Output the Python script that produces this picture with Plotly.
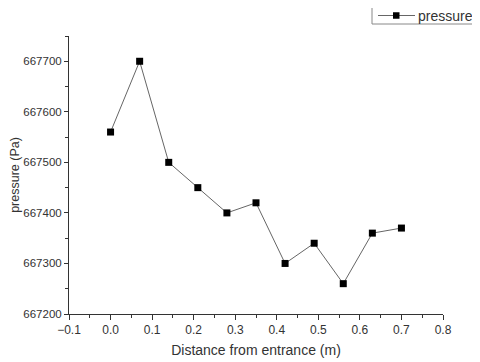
import plotly.graph_objects as go

distance = [0.0, 0.07, 0.14, 0.21, 0.28, 0.35, 0.42, 0.49, 0.56, 0.63, 0.70]
pressure = [667560, 667700, 667500, 667450, 667400, 667420, 667300, 667340, 667260, 667360, 667370]
series_name = "pressure"

fig = go.Figure()
fig.add_trace(go.Scatter(
    x=distance, y=pressure, mode="lines+markers", name=series_name,
    line=dict(color="#666666", width=1),
    marker=dict(symbol="square", size=7, color="black"),
))

font = "Liberation Sans, Arial, sans-serif"

# page body has an 8px default margin; compensate so the picture lines up
OFF = 8
FW, FH = 480 - OFF, 362 - OFF
L, T, W, H = 69 - OFF, 36 - OFF, 374, 278

def px(x):
    return (x - OFF - L) / W
def py(y):
    return (T + H - (y - OFF)) / H

legend_shapes = [
    dict(type="rect", xref="paper", yref="paper",
         x0=px(372), x1=px(476), y0=py(24), y1=py(7),
         line=dict(color="#888888", width=1), fillcolor="rgba(0,0,0,0)"),
    dict(type="line", xref="paper", yref="paper",
         x0=px(378), x1=px(415), y0=py(15.5), y1=py(15.5),
         line=dict(color="#666666", width=1)),
    dict(type="rect", xref="paper", yref="paper",
         x0=px(393), x1=px(399.5), y0=py(18.75), y1=py(12.25),
         line=dict(color="black", width=0), fillcolor="black"),
]

fig.update_layout(
    width=FW, height=FH,
    margin=dict(l=L, r=FW - L - W, t=T, b=FH - T - H),
    paper_bgcolor="white", plot_bgcolor="white",
    font=dict(family=font, size=12, color="#333333"),
    showlegend=False,
    xaxis=dict(range=[-0.1, 0.8], dtick=0.1, tickformat=".1f", automargin=False,
               showgrid=False, zeroline=False, showline=True, linecolor="#333333", linewidth=1,
               ticks="outside", ticklen=5, tickcolor="#333333",
               minor=dict(ticks="outside", ticklen=3, dtick=0.05, tickcolor="#333333"),
               title=dict(text="Distance from entrance (m)", font=dict(size=14), standoff=8)),
    yaxis=dict(range=[667200, 667750], tick0=667200, dtick=100, tickformat="d", automargin=False,
               showgrid=False, zeroline=False, showline=True, linecolor="#333333", linewidth=1,
               ticks="outside", ticklen=4, tickcolor="#333333", tickfont=dict(size=11.5),
               minor=dict(ticks="outside", ticklen=3, dtick=50, tickcolor="#333333"),
               title=dict(text="pressure (Pa)", font=dict(size=12.5), standoff=30)),
    shapes=legend_shapes,
    annotations=[dict(text=series_name, xref="paper", yref="paper",
                      x=px(415.5), y=py(15.5), xanchor="left", yanchor="middle",
                      showarrow=False, font=dict(size=14, color="#333333"))],
)
fig.write_html("out.html")
